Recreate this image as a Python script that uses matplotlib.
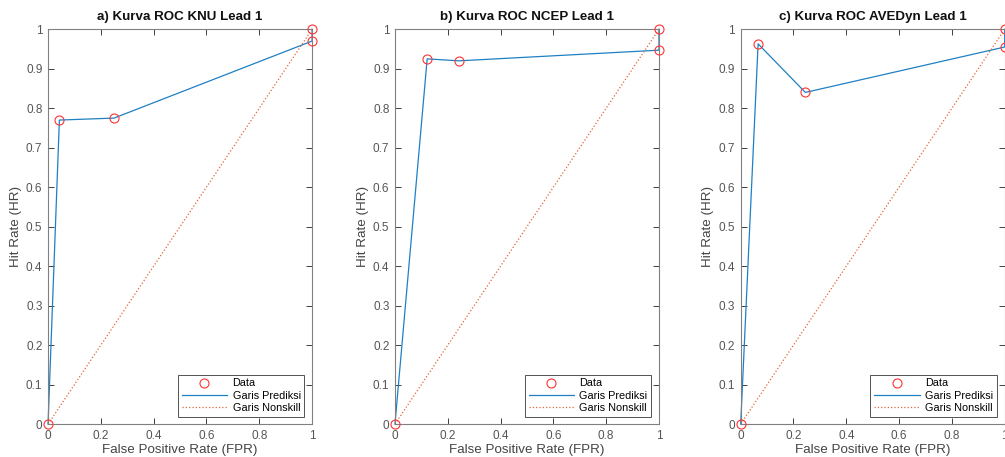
import matplotlib
matplotlib.use('Agg')
import matplotlib.pyplot as plt

plt.rcParams['font.family'] = ['Liberation Sans', 'DejaVu Sans']

# data ROC tiap model (FPR, HR)
titles = ['a) Kurva ROC KNU Lead 1', 'b) Kurva ROC NCEP Lead 1', 'c) Kurva ROC AVEDyn Lead 1']
fpr_knu = [0, 0.043, 0.25, 1, 1]
hr_knu = [0, 0.77, 0.775, 0.97, 1]
fpr_ncep = [0, 0.122, 0.242, 1, 1]
hr_ncep = [0, 0.925, 0.92, 0.947, 1]
fpr_ave = [0, 0.066, 0.245, 1, 1]
hr_ave = [0, 0.963, 0.84, 0.955, 1]
nonskill = [0, 1]

xticks = [0, 0.2, 0.4, 0.6, 0.8, 1]
yticks = [0, 0.1, 0.2, 0.3, 0.4, 0.5, 0.6, 0.7, 0.8, 0.9, 1]

fig = plt.figure(figsize=(10.05, 4.57), dpi=100)
lefts = [0.0478, 0.393, 0.737]
series = [(fpr_knu, hr_knu), (fpr_ncep, hr_ncep), (fpr_ave, hr_ave)]

for left, title, (fx, hy) in zip(lefts, titles, series):
    ax = fig.add_axes([left, 0.072, 0.2627, 0.864])
    ax.plot(fx, hy, 'o', color='#FF3333', mfc='none', ms=6.5, mew=0.8, label='Data', clip_on=False, zorder=3)
    ax.plot(fx, hy, '-', color='#1f80c4', lw=0.9, label='Garis Prediksi', clip_on=False)
    ax.plot(nonskill, nonskill, ':', color='#E0663A', lw=0.9, label='Garis Nonskill')
    ax.set_xlim(0, 1)
    ax.set_ylim(0, 1)
    ax.set_xticks(xticks)
    ax.set_yticks(yticks)
    ax.set_xticklabels(['0', '0.2', '0.4', '0.6', '0.8', '1'])
    ax.set_yticklabels(['0', '0.1', '0.2', '0.3', '0.4', '0.5', '0.6', '0.7', '0.8', '0.9', '1'])
    ax.tick_params(direction='in', top=True, right=True, length=4, width=0.7,
                   color='#404040', labelcolor='#555555', labelsize=8.5, pad=4)
    for s in ax.spines.values():
        s.set_color('#808080')
        s.set_linewidth(0.8)
    ax.set_title(title, fontsize=9.6, fontweight='bold', color='#111111', pad=7)
    ax.set_xlabel('False Positive Rate (FPR)', fontsize=9.6, color='#444444', labelpad=2)
    ax.set_ylabel('Hit Rate (HR)', fontsize=9.6, color='#444444', labelpad=3)
    leg = ax.legend(loc='lower right', fontsize=7.8, frameon=True, fancybox=False,
                    edgecolor='#262626', borderaxespad=0.7, handlelength=4.2,
                    labelspacing=0.2, borderpad=0.35, handletextpad=0.5)
    leg.get_frame().set_linewidth(0.7)

plt.savefig('out.png', dpi=100)
